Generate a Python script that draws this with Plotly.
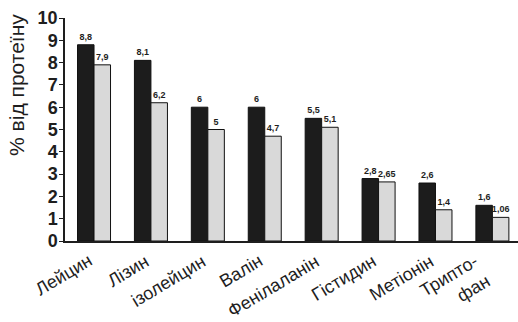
import plotly.graph_objects as go

# Amino acid content, % of protein
amino_acids = ["Лейцин", "Лізин", "ізолейцин", "Валін", "Фенілаланін",
               "Гістидин", "Метіонін", "Трипто-<br>фан"]
series_dark = [8.8, 8.1, 6.0, 6.0, 5.5, 2.8, 2.6, 1.6]
series_light = [7.9, 6.2, 5.0, 4.7, 5.1, 2.65, 1.4, 1.06]
labels_dark = ["8,8", "8,1", "6", "6", "5,5", "2,8", "2,6", "1,6"]
labels_light = ["7,9", "6,2", "5", "4,7", "5,1", "2,65", "1,4", "1,06"]
y_ticks = list(range(0, 11))

FONT = "Arial, Liberation Sans, sans-serif"
INK = "#1e1e1e"

fig = go.Figure()
fig.add_trace(go.Bar(
    x=amino_acids, y=series_dark, text=labels_dark,
    marker=dict(color="#1c1c1c", line=dict(color="#111111", width=1)),
))
fig.add_trace(go.Bar(
    x=amino_acids, y=series_light, text=labels_light,
    marker=dict(color="#d9d9d9", line=dict(color="#111111", width=1)),
))
fig.update_traces(
    textposition="outside", constraintext="none", cliponaxis=False,
    textfont=dict(family=FONT, size=9, color=INK, weight="bold"),
)

# Slanted category names, written as annotations below each bar pair
category_notes = [
    dict(text=name, x=name, y=0, xref="x", yref="y",
         xanchor="right", yanchor="top", textangle=-31,
         xshift=4, yshift=-7, showarrow=False, align="right",
         font=dict(family=FONT, size=18, color=INK))
    for name in amino_acids
]

fig.update_layout(
    width=518, height=322,
    margin=dict(l=65, r=0, t=18, b=81),
    paper_bgcolor="white", plot_bgcolor="white",
    showlegend=False,
    barmode="group", bargap=0.42, bargroupgap=0.0,
    font=dict(family=FONT, color=INK),
    xaxis=dict(
        type="category", range=[-0.51, 7.45],
        showline=True, linecolor=INK, linewidth=1.5,
        showgrid=False, ticks="", showticklabels=False,
    ),
    yaxis=dict(
        range=[0, 10], tickvals=y_ticks,
        showline=True, linecolor=INK, linewidth=1.5,
        showgrid=False, zeroline=False,
        ticks="outside", ticklen=4, tickcolor=INK,
        ticklabelstandoff=-2,
        tickfont=dict(family=FONT, size=18, color=INK, weight="bold"),
    ),
    annotations=category_notes + [dict(
        text="% від протеїну", textangle=-90,
        xref="paper", yref="paper", x=-0.106, y=0.70,
        xanchor="center", yanchor="middle", showarrow=False,
        font=dict(family=FONT, size=21, color=INK),
    )],
)

fig.write_html("out.html")
